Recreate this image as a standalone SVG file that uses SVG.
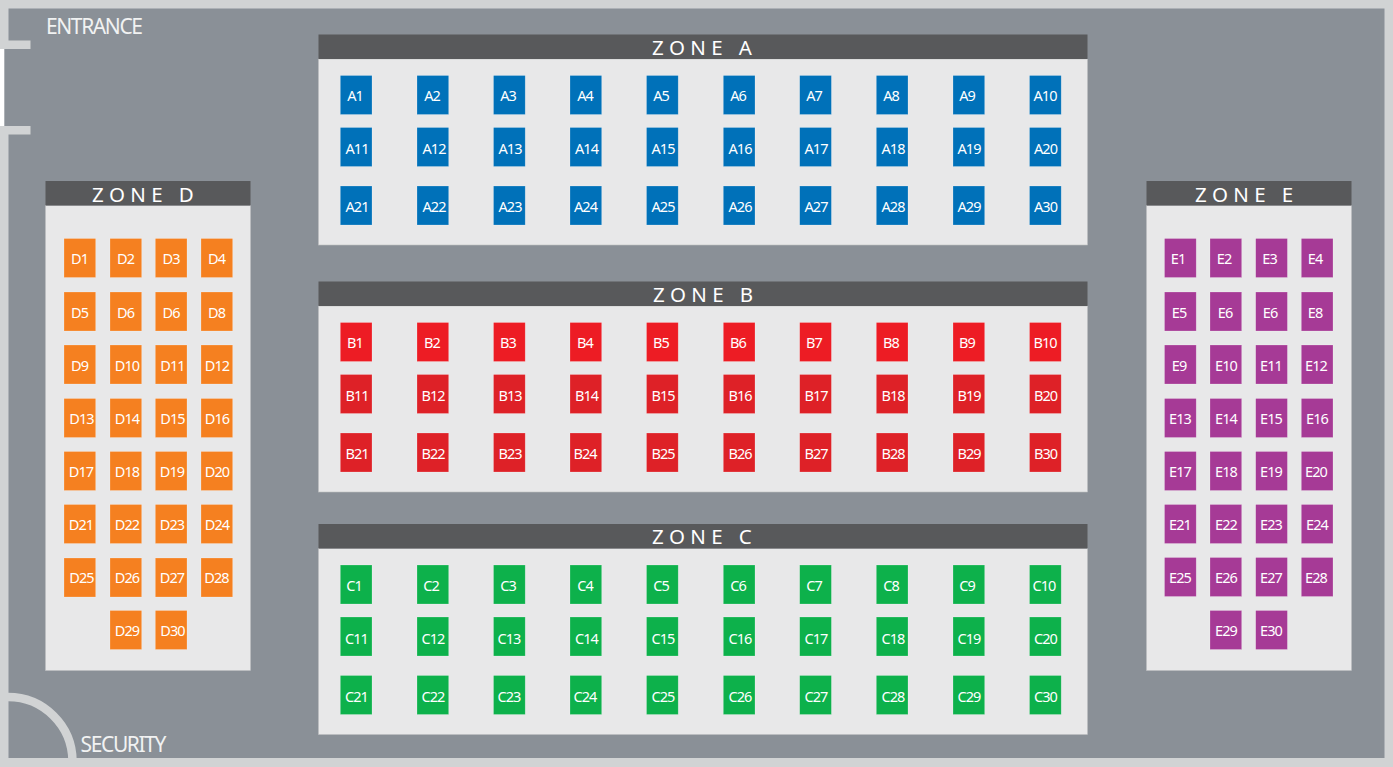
<svg xmlns="http://www.w3.org/2000/svg" width="1393" height="767" viewBox="0 0 1393 767">
<style>
text{font-family:"Noto Sans","Open Sans","Liberation Sans",sans-serif;fill:#fff}
.l{font-size:14.5px;letter-spacing:-.95px;text-anchor:middle}
.t{font-size:20.5px;letter-spacing:5.4px}
.h{fill:#58595b}
.p{fill:#e8e8e9;stroke:#bcbec0;stroke-width:.6}
.f{font-size:21px;fill:#f1f2f2}
.wall{fill:#d1d3d4}
.a,.b,.b2,.c,.d,.e{stroke:#fff;stroke-opacity:.35;stroke-width:.6}
.a{fill:#0071b9}.b{fill:#ed1c24}.b2{fill:#de2127}.c{fill:#0db14b}.d{fill:#f58020}.e{fill:#a63a96}
</style>
<g id="floor">
<rect class="wall" width="1393" height="767"/>
<rect x="8.5" y="8.5" width="1376" height="749.5" fill="#8a9097"/>
<rect x="4" y="49" width="6" height="77" fill="#8a9097"/>
<rect x="0" y="49" width="4.3" height="77" fill="#fff"/>
<rect class="wall" x="0" y="40.5" width="30.5" height="8.5"/>
<rect class="wall" x="0" y="126" width="30.5" height="8.5"/>
<path d="M8 697A64.5 64.5 0 0 1 72.500 761" fill="none" stroke="#d1d3d4" stroke-width="8.500"/>
<text class="f" x="46" y="33.500" textLength="97">ENTRANCE</text>
<text class="f" x="80.500" y="752" textLength="86">SECURITY</text>
</g>
<g id="zone-a"><rect class="p" x="318.500" y="59" width="769" height="186"/><rect class="h" x="318.500" y="34.500" width="769" height="24.500"/><text class="t" x="652" y="55">ZONE A</text></g>
<g id="zone-b"><rect class="p" x="318.500" y="306" width="769" height="186"/><rect class="h" x="318.500" y="281.500" width="769" height="24.500"/><text class="t" x="653" y="302">ZONE B</text></g>
<g id="zone-c"><rect class="p" x="318.500" y="548.500" width="769" height="186"/><rect class="h" x="318.500" y="524" width="769" height="24.500"/><text class="t" x="652" y="544">ZONE C</text></g>
<g id="zone-d"><rect class="p" x="45.500" y="205.500" width="205" height="465"/><rect class="h" x="45.500" y="181" width="205" height="24.500"/><text class="t" x="92" y="202">ZONE D</text></g>
<g id="zone-e"><rect class="p" x="1146.500" y="205.500" width="205" height="465"/><rect class="h" x="1146.500" y="181" width="205" height="24.500"/><text class="t" x="1195" y="202">ZONE E</text></g>
<g id="connectors"/>
<g id="A1"><rect class="a" x="340.300" y="75.500" width="31.700" height="39"/><text class="l" x="355" y="101">A1</text></g>
<g id="A2"><rect class="a" x="417" y="75.500" width="31.700" height="39"/><text class="l" x="432" y="101">A2</text></g>
<g id="A3"><rect class="a" x="493.500" y="75.500" width="31.700" height="39"/><text class="l" x="508" y="101">A3</text></g>
<g id="A4"><rect class="a" x="570" y="75.500" width="31.700" height="39"/><text class="l" x="585" y="101">A4</text></g>
<g id="A5"><rect class="a" x="646.500" y="75.500" width="31.700" height="39"/><text class="l" x="661" y="101">A5</text></g>
<g id="A6"><rect class="a" x="723.300" y="75.500" width="31.700" height="39"/><text class="l" x="738" y="101">A6</text></g>
<g id="A7"><rect class="a" x="799.700" y="75.500" width="31.700" height="39"/><text class="l" x="814" y="101">A7</text></g>
<g id="A8"><rect class="a" x="876.300" y="75.500" width="31.700" height="39"/><text class="l" x="891" y="101">A8</text></g>
<g id="A9"><rect class="a" x="953" y="75.500" width="31.700" height="39"/><text class="l" x="967" y="101">A9</text></g>
<g id="A10"><rect class="a" x="1029.500" y="75.500" width="31.700" height="39"/><text class="l" x="1045" y="101">A10</text></g>
<g id="A11"><rect class="a" x="340.300" y="127.500" width="31.700" height="39"/><text class="l" x="357" y="154">A11</text></g>
<g id="A12"><rect class="a" x="417" y="127.500" width="31.700" height="39"/><text class="l" x="434" y="154">A12</text></g>
<g id="A13"><rect class="a" x="493.500" y="127.500" width="31.700" height="39"/><text class="l" x="510" y="154">A13</text></g>
<g id="A14"><rect class="a" x="570" y="127.500" width="31.700" height="39"/><text class="l" x="586.500" y="154">A14</text></g>
<g id="A15"><rect class="a" x="646.500" y="127.500" width="31.700" height="39"/><text class="l" x="663" y="154">A15</text></g>
<g id="A16"><rect class="a" x="723.300" y="127.500" width="31.700" height="39"/><text class="l" x="740" y="154">A16</text></g>
<g id="A17"><rect class="a" x="799.700" y="127.500" width="31.700" height="39"/><text class="l" x="816" y="154">A17</text></g>
<g id="A18"><rect class="a" x="876.300" y="127.500" width="31.700" height="39"/><text class="l" x="893" y="154">A18</text></g>
<g id="A19"><rect class="a" x="953" y="127.500" width="31.700" height="39"/><text class="l" x="969" y="154">A19</text></g>
<g id="A20"><rect class="a" x="1029.500" y="127.500" width="31.700" height="39"/><text class="l" x="1045.500" y="154">A20</text></g>
<g id="A21"><rect class="a" x="340.300" y="186" width="31.700" height="39"/><text class="l" x="357" y="212">A21</text></g>
<g id="A22"><rect class="a" x="417" y="186" width="31.700" height="39"/><text class="l" x="434" y="212">A22</text></g>
<g id="A23"><rect class="a" x="493.500" y="186" width="31.700" height="39"/><text class="l" x="510" y="212">A23</text></g>
<g id="A24"><rect class="a" x="570" y="186" width="31.700" height="39"/><text class="l" x="585.500" y="212">A24</text></g>
<g id="A25"><rect class="a" x="646.500" y="186" width="31.700" height="39"/><text class="l" x="663" y="212">A25</text></g>
<g id="A26"><rect class="a" x="723.300" y="186" width="31.700" height="39"/><text class="l" x="740" y="212">A26</text></g>
<g id="A27"><rect class="a" x="799.700" y="186" width="31.700" height="39"/><text class="l" x="816" y="212">A27</text></g>
<g id="A28"><rect class="a" x="876.300" y="186" width="31.700" height="39"/><text class="l" x="893" y="212">A28</text></g>
<g id="A29"><rect class="a" x="953" y="186" width="31.700" height="39"/><text class="l" x="969" y="212">A29</text></g>
<g id="A30"><rect class="a" x="1029.500" y="186" width="31.700" height="39"/><text class="l" x="1045.500" y="212">A30</text></g>
<g id="B1"><rect class="b" x="340.300" y="322.500" width="31.700" height="39"/><text class="l" x="355" y="348">B1</text></g>
<g id="B2"><rect class="b" x="417" y="322.500" width="31.700" height="39"/><text class="l" x="432" y="348">B2</text></g>
<g id="B3"><rect class="b" x="493.500" y="322.500" width="31.700" height="39"/><text class="l" x="508" y="348">B3</text></g>
<g id="B4"><rect class="b" x="570" y="322.500" width="31.700" height="39"/><text class="l" x="585" y="348">B4</text></g>
<g id="B5"><rect class="b" x="646.500" y="322.500" width="31.700" height="39"/><text class="l" x="661" y="348">B5</text></g>
<g id="B6"><rect class="b" x="723.300" y="322.500" width="31.700" height="39"/><text class="l" x="738" y="348">B6</text></g>
<g id="B7"><rect class="b" x="799.700" y="322.500" width="31.700" height="39"/><text class="l" x="814" y="348">B7</text></g>
<g id="B8"><rect class="b" x="876.300" y="322.500" width="31.700" height="39"/><text class="l" x="891" y="348">B8</text></g>
<g id="B9"><rect class="b" x="953" y="322.500" width="31.700" height="39"/><text class="l" x="967" y="348">B9</text></g>
<g id="B10"><rect class="b" x="1029.500" y="322.500" width="31.700" height="39"/><text class="l" x="1045" y="348">B10</text></g>
<g id="B11"><rect class="b2" x="340.300" y="374.500" width="31.700" height="39"/><text class="l" x="357" y="401">B11</text></g>
<g id="B12"><rect class="b2" x="417" y="374.500" width="31.700" height="39"/><text class="l" x="433" y="401">B12</text></g>
<g id="B13"><rect class="b2" x="493.500" y="374.500" width="31.700" height="39"/><text class="l" x="510" y="401">B13</text></g>
<g id="B14"><rect class="b2" x="570" y="374.500" width="31.700" height="39"/><text class="l" x="586.500" y="401">B14</text></g>
<g id="B15"><rect class="b2" x="646.500" y="374.500" width="31.700" height="39"/><text class="l" x="663" y="401">B15</text></g>
<g id="B16"><rect class="b2" x="723.300" y="374.500" width="31.700" height="39"/><text class="l" x="740" y="401">B16</text></g>
<g id="B17"><rect class="b2" x="799.700" y="374.500" width="31.700" height="39"/><text class="l" x="816" y="401">B17</text></g>
<g id="B18"><rect class="b2" x="876.300" y="374.500" width="31.700" height="39"/><text class="l" x="893" y="401">B18</text></g>
<g id="B19"><rect class="b2" x="953" y="374.500" width="31.700" height="39"/><text class="l" x="969" y="401">B19</text></g>
<g id="B20"><rect class="b2" x="1029.500" y="374.500" width="31.700" height="39"/><text class="l" x="1045.500" y="401">B20</text></g>
<g id="B21"><rect class="b2" x="340.300" y="433" width="31.700" height="39"/><text class="l" x="357" y="459">B21</text></g>
<g id="B22"><rect class="b2" x="417" y="433" width="31.700" height="39"/><text class="l" x="433" y="459">B22</text></g>
<g id="B23"><rect class="b2" x="493.500" y="433" width="31.700" height="39"/><text class="l" x="510" y="459">B23</text></g>
<g id="B24"><rect class="b2" x="570" y="433" width="31.700" height="39"/><text class="l" x="585" y="459">B24</text></g>
<g id="B25"><rect class="b2" x="646.500" y="433" width="31.700" height="39"/><text class="l" x="663" y="459">B25</text></g>
<g id="B26"><rect class="b2" x="723.300" y="433" width="31.700" height="39"/><text class="l" x="740" y="459">B26</text></g>
<g id="B27"><rect class="b2" x="799.700" y="433" width="31.700" height="39"/><text class="l" x="816" y="459">B27</text></g>
<g id="B28"><rect class="b2" x="876.300" y="433" width="31.700" height="39"/><text class="l" x="893" y="459">B28</text></g>
<g id="B29"><rect class="b2" x="953" y="433" width="31.700" height="39"/><text class="l" x="969" y="459">B29</text></g>
<g id="B30"><rect class="b2" x="1029.500" y="433" width="31.700" height="39"/><text class="l" x="1045.500" y="459">B30</text></g>
<g id="C1"><rect class="c" x="340.300" y="565" width="31.700" height="39"/><text class="l" x="354" y="590.500">C1</text></g>
<g id="C2"><rect class="c" x="417" y="565" width="31.700" height="39"/><text class="l" x="431" y="590.500">C2</text></g>
<g id="C3"><rect class="c" x="493.500" y="565" width="31.700" height="39"/><text class="l" x="508" y="590.500">C3</text></g>
<g id="C4"><rect class="c" x="570" y="565" width="31.700" height="39"/><text class="l" x="585" y="590.500">C4</text></g>
<g id="C5"><rect class="c" x="646.500" y="565" width="31.700" height="39"/><text class="l" x="661" y="590.500">C5</text></g>
<g id="C6"><rect class="c" x="723.300" y="565" width="31.700" height="39"/><text class="l" x="738" y="590.500">C6</text></g>
<g id="C7"><rect class="c" x="799.700" y="565" width="31.700" height="39"/><text class="l" x="814" y="590.500">C7</text></g>
<g id="C8"><rect class="c" x="876.300" y="565" width="31.700" height="39"/><text class="l" x="891" y="590.500">C8</text></g>
<g id="C9"><rect class="c" x="953" y="565" width="31.700" height="39"/><text class="l" x="967" y="590.500">C9</text></g>
<g id="C10"><rect class="c" x="1029.500" y="565" width="31.700" height="39"/><text class="l" x="1044" y="590.500">C10</text></g>
<g id="C11"><rect class="c" x="340.300" y="617" width="31.700" height="39"/><text class="l" x="356.500" y="643.500">C11</text></g>
<g id="C12"><rect class="c" x="417" y="617" width="31.700" height="39"/><text class="l" x="433" y="643.500">C12</text></g>
<g id="C13"><rect class="c" x="493.500" y="617" width="31.700" height="39"/><text class="l" x="509" y="643.500">C13</text></g>
<g id="C14"><rect class="c" x="570" y="617" width="31.700" height="39"/><text class="l" x="586.500" y="643.500">C14</text></g>
<g id="C15"><rect class="c" x="646.500" y="617" width="31.700" height="39"/><text class="l" x="663" y="643.500">C15</text></g>
<g id="C16"><rect class="c" x="723.300" y="617" width="31.700" height="39"/><text class="l" x="740" y="643.500">C16</text></g>
<g id="C17"><rect class="c" x="799.700" y="617" width="31.700" height="39"/><text class="l" x="816" y="643.500">C17</text></g>
<g id="C18"><rect class="c" x="876.300" y="617" width="31.700" height="39"/><text class="l" x="893" y="643.500">C18</text></g>
<g id="C19"><rect class="c" x="953" y="617" width="31.700" height="39"/><text class="l" x="969" y="643.500">C19</text></g>
<g id="C20"><rect class="c" x="1029.500" y="617" width="31.700" height="39"/><text class="l" x="1045.500" y="643.500">C20</text></g>
<g id="C21"><rect class="c" x="340.300" y="675.500" width="31.700" height="39"/><text class="l" x="356.500" y="701.500">C21</text></g>
<g id="C22"><rect class="c" x="417" y="675.500" width="31.700" height="39"/><text class="l" x="433" y="701.500">C22</text></g>
<g id="C23"><rect class="c" x="493.500" y="675.500" width="31.700" height="39"/><text class="l" x="509" y="701.500">C23</text></g>
<g id="C24"><rect class="c" x="570" y="675.500" width="31.700" height="39"/><text class="l" x="585" y="701.500">C24</text></g>
<g id="C25"><rect class="c" x="646.500" y="675.500" width="31.700" height="39"/><text class="l" x="663" y="701.500">C25</text></g>
<g id="C26"><rect class="c" x="723.300" y="675.500" width="31.700" height="39"/><text class="l" x="740" y="701.500">C26</text></g>
<g id="C27"><rect class="c" x="799.700" y="675.500" width="31.700" height="39"/><text class="l" x="816" y="701.500">C27</text></g>
<g id="C28"><rect class="c" x="876.300" y="675.500" width="31.700" height="39"/><text class="l" x="893" y="701.500">C28</text></g>
<g id="C29"><rect class="c" x="953" y="675.500" width="31.700" height="39"/><text class="l" x="969" y="701.500">C29</text></g>
<g id="C30"><rect class="c" x="1029.500" y="675.500" width="31.700" height="39"/><text class="l" x="1045.500" y="701.500">C30</text></g>
<g id="D1"><rect class="d" x="64" y="238.500" width="31.700" height="39"/><text class="l" x="79.500" y="263.500">D1</text></g>
<g id="D2"><rect class="d" x="110" y="238.500" width="31.700" height="39"/><text class="l" x="125.500" y="263.500">D2</text></g>
<g id="D3"><rect class="d" x="155.300" y="238.500" width="31.700" height="39"/><text class="l" x="171" y="263.500">D3</text></g>
<g id="D4"><rect class="d" x="201" y="238.500" width="31.700" height="39"/><text class="l" x="216.500" y="263.500">D4</text></g>
<g id="D5"><rect class="d" x="64" y="292" width="31.700" height="39"/><text class="l" x="79.500" y="317.500">D5</text></g>
<g id="D6"><rect class="d" x="110" y="292" width="31.700" height="39"/><text class="l" x="125.500" y="317.500">D6</text></g>
<g id="D6b"><rect class="d" x="155.300" y="292" width="31.700" height="39"/><text class="l" x="171" y="317.500">D6</text></g>
<g id="D8"><rect class="d" x="201" y="292" width="31.700" height="39"/><text class="l" x="216.500" y="317.500">D8</text></g>
<g id="D9"><rect class="d" x="64" y="345" width="31.700" height="39"/><text class="l" x="79.500" y="370.500">D9</text></g>
<g id="D10"><rect class="d" x="110" y="345" width="31.700" height="39"/><text class="l" x="127" y="370.500">D10</text></g>
<g id="D11"><rect class="d" x="155.300" y="345" width="31.700" height="39"/><text class="l" x="172.500" y="370.500">D11</text></g>
<g id="D12"><rect class="d" x="201" y="345" width="31.700" height="39"/><text class="l" x="217" y="370.500">D12</text></g>
<g id="D13"><rect class="d" x="64" y="398.500" width="31.700" height="39"/><text class="l" x="81.500" y="424">D13</text></g>
<g id="D14"><rect class="d" x="110" y="398.500" width="31.700" height="39"/><text class="l" x="127" y="424">D14</text></g>
<g id="D15"><rect class="d" x="155.300" y="398.500" width="31.700" height="39"/><text class="l" x="172.500" y="424">D15</text></g>
<g id="D16"><rect class="d" x="201" y="398.500" width="31.700" height="39"/><text class="l" x="217" y="424">D16</text></g>
<g id="D17"><rect class="d" x="64" y="451.500" width="31.700" height="39"/><text class="l" x="81" y="476.500">D17</text></g>
<g id="D18"><rect class="d" x="110" y="451.500" width="31.700" height="39"/><text class="l" x="127" y="476.500">D18</text></g>
<g id="D19"><rect class="d" x="155.300" y="451.500" width="31.700" height="39"/><text class="l" x="172" y="476.500">D19</text></g>
<g id="D20"><rect class="d" x="201" y="451.500" width="31.700" height="39"/><text class="l" x="217" y="476.500">D20</text></g>
<g id="D21"><rect class="d" x="64" y="504.500" width="31.700" height="39"/><text class="l" x="81" y="529.500">D21</text></g>
<g id="D22"><rect class="d" x="110" y="504.500" width="31.700" height="39"/><text class="l" x="127" y="529.500">D22</text></g>
<g id="D23"><rect class="d" x="155.300" y="504.500" width="31.700" height="39"/><text class="l" x="172" y="529.500">D23</text></g>
<g id="D24"><rect class="d" x="201" y="504.500" width="31.700" height="39"/><text class="l" x="217" y="529.500">D24</text></g>
<g id="D25"><rect class="d" x="64" y="558" width="31.700" height="39"/><text class="l" x="81.500" y="582.500">D25</text></g>
<g id="D26"><rect class="d" x="110" y="558" width="31.700" height="39"/><text class="l" x="127" y="582.500">D26</text></g>
<g id="D27"><rect class="d" x="155.300" y="558" width="31.700" height="39"/><text class="l" x="172" y="582.500">D27</text></g>
<g id="D28"><rect class="d" x="201" y="558" width="31.700" height="39"/><text class="l" x="216.500" y="582.500">D28</text></g>
<g id="D29"><rect class="d" x="110" y="610.500" width="31.700" height="39"/><text class="l" x="127" y="635.500">D29</text></g>
<g id="D30"><rect class="d" x="155.300" y="610.500" width="31.700" height="39"/><text class="l" x="172.500" y="635.500">D30</text></g>
<g id="E1"><rect class="e" x="1164.500" y="238.500" width="31.700" height="39"/><text class="l" x="1178" y="263.500">E1</text></g>
<g id="E2"><rect class="e" x="1210" y="238.500" width="31.700" height="39"/><text class="l" x="1224" y="263.500">E2</text></g>
<g id="E3"><rect class="e" x="1255.700" y="238.500" width="31.700" height="39"/><text class="l" x="1269.500" y="263.500">E3</text></g>
<g id="E4"><rect class="e" x="1301.300" y="238.500" width="31.700" height="39"/><text class="l" x="1315" y="263.500">E4</text></g>
<g id="E5"><rect class="e" x="1164.500" y="292" width="31.700" height="39"/><text class="l" x="1179" y="317.500">E5</text></g>
<g id="E6"><rect class="e" x="1210" y="292" width="31.700" height="39"/><text class="l" x="1225" y="317.500">E6</text></g>
<g id="E6b"><rect class="e" x="1255.700" y="292" width="31.700" height="39"/><text class="l" x="1270" y="317.500">E6</text></g>
<g id="E8"><rect class="e" x="1301.300" y="292" width="31.700" height="39"/><text class="l" x="1315" y="317.500">E8</text></g>
<g id="E9"><rect class="e" x="1164.500" y="345" width="31.700" height="39"/><text class="l" x="1179" y="370.500">E9</text></g>
<g id="E10"><rect class="e" x="1210" y="345" width="31.700" height="39"/><text class="l" x="1226" y="370.500">E10</text></g>
<g id="E11"><rect class="e" x="1255.700" y="345" width="31.700" height="39"/><text class="l" x="1271" y="370.500">E11</text></g>
<g id="E12"><rect class="e" x="1301.300" y="345" width="31.700" height="39"/><text class="l" x="1316" y="370.500">E12</text></g>
<g id="E13"><rect class="e" x="1164.500" y="398.500" width="31.700" height="39"/><text class="l" x="1180" y="424">E13</text></g>
<g id="E14"><rect class="e" x="1210" y="398.500" width="31.700" height="39"/><text class="l" x="1226" y="424">E14</text></g>
<g id="E15"><rect class="e" x="1255.700" y="398.500" width="31.700" height="39"/><text class="l" x="1271" y="424">E15</text></g>
<g id="E16"><rect class="e" x="1301.300" y="398.500" width="31.700" height="39"/><text class="l" x="1317" y="424">E16</text></g>
<g id="E17"><rect class="e" x="1164.500" y="451.500" width="31.700" height="39"/><text class="l" x="1180" y="476.500">E17</text></g>
<g id="E18"><rect class="e" x="1210" y="451.500" width="31.700" height="39"/><text class="l" x="1226" y="476.500">E18</text></g>
<g id="E19"><rect class="e" x="1255.700" y="451.500" width="31.700" height="39"/><text class="l" x="1271" y="476.500">E19</text></g>
<g id="E20"><rect class="e" x="1301.300" y="451.500" width="31.700" height="39"/><text class="l" x="1316" y="476.500">E20</text></g>
<g id="E21"><rect class="e" x="1164.500" y="504.500" width="31.700" height="39"/><text class="l" x="1180" y="529.500">E21</text></g>
<g id="E22"><rect class="e" x="1210" y="504.500" width="31.700" height="39"/><text class="l" x="1226" y="529.500">E22</text></g>
<g id="E23"><rect class="e" x="1255.700" y="504.500" width="31.700" height="39"/><text class="l" x="1271" y="529.500">E23</text></g>
<g id="E24"><rect class="e" x="1301.300" y="504.500" width="31.700" height="39"/><text class="l" x="1317" y="529.500">E24</text></g>
<g id="E25"><rect class="e" x="1164.500" y="557.500" width="31.700" height="39"/><text class="l" x="1180" y="582.500">E25</text></g>
<g id="E26"><rect class="e" x="1210" y="557.500" width="31.700" height="39"/><text class="l" x="1226" y="582.500">E26</text></g>
<g id="E27"><rect class="e" x="1255.700" y="557.500" width="31.700" height="39"/><text class="l" x="1271" y="582.500">E27</text></g>
<g id="E28"><rect class="e" x="1301.300" y="557.500" width="31.700" height="39"/><text class="l" x="1316" y="582.500">E28</text></g>
<g id="E29"><rect class="e" x="1210" y="610.500" width="31.700" height="39"/><text class="l" x="1226" y="635.500">E29</text></g>
<g id="E30"><rect class="e" x="1255.700" y="610.500" width="31.700" height="39"/><text class="l" x="1271" y="635.500">E30</text></g>
</svg>
